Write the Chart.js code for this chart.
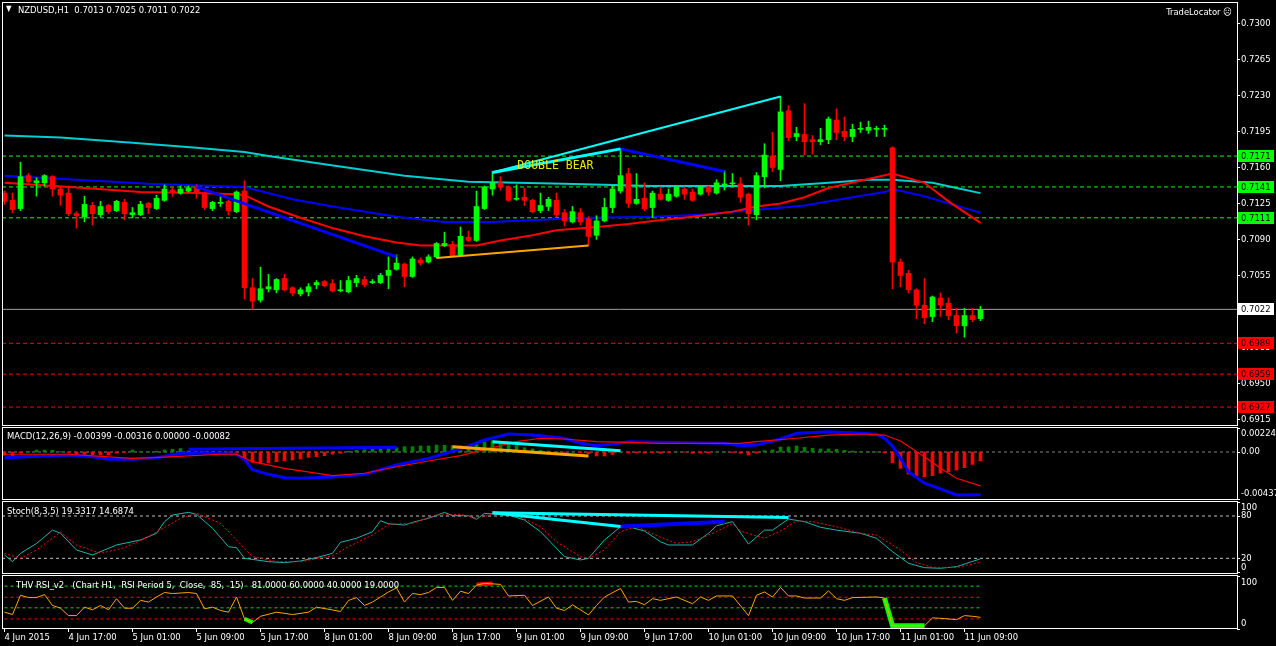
<!DOCTYPE html>
<html>
<head>
<meta charset="utf-8">
<title>NZDUSD,H1</title>
<script src="https://cdn.jsdelivr.net/npm/chart.js@4.4.1/dist/chart.umd.min.js"></script>
<style>
  html, body { margin: 0; padding: 0; background: #000; }
  body { width: 1276px; height: 646px; position: relative; overflow: hidden; color: #fff;
         font-family: "DejaVu Sans Condensed", "Liberation Sans Narrow", "Liberation Sans", sans-serif; font-size: 9.4px; }
  .pane { position: absolute; left: 0; width: 1276px; }
  .cap { position: absolute; white-space: pre; line-height: 12px; z-index: 2; }
</style>
</head>
<body>
<div class="pane" style="top:0;height:426px"><canvas id="mainChart"></canvas></div>
<div class="pane" style="top:426px;height:74px"><canvas id="macdChart"></canvas></div>
<div class="pane" style="top:500px;height:74px"><canvas id="stochChart"></canvas></div>
<div class="pane" style="top:574px;height:72px"><canvas id="rsiChart"></canvas></div>

<div class="cap" style="left:6px;top:3px;font-size:8px">▼</div>
<div class="cap" id="title" style="left:18px;top:4px"></div>
<div class="cap" style="right:44px;top:6px">TradeLocator ☹</div>
<div class="cap" style="left:7px;top:430px">MACD(12,26,9) -0.00399 -0.00316 0.00000 -0.00082</div>
<div class="cap" style="left:7px;top:505px">Stoch(8,3,5) 19.3317 14.6874</div>
<div class="cap" style="left:16px;top:579px">THV RSI_v2   (Chart H1,  RSI Period 5,  Close,  85,  15)   81.0000 60.0000 40.0000 19.0000</div>

<script>
// ---- data ----
const symbol = 'NZDUSD,H1';

// x axis: one label every 8 hourly bars
const tickBars = [0, 8, 16, 24, 32, 40, 48, 56, 64, 72, 80, 88, 96, 104, 112, 120];
const tickLabels = ['4 Jun 2015', '4 Jun 17:00', '5 Jun 01:00', '5 Jun 09:00', '5 Jun 17:00',
  '8 Jun 01:00', '8 Jun 09:00', '8 Jun 17:00', '9 Jun 01:00', '9 Jun 09:00', '9 Jun 17:00',
  '10 Jun 01:00', '10 Jun 09:00', '10 Jun 17:00', '11 Jun 01:00', '11 Jun 09:00'];

const priceTicks = [0.6915, 0.6950, 0.6985, 0.7020, 0.7055, 0.7090, 0.7125, 0.7160, 0.7195, 0.7230, 0.7265, 0.7300];

const opens = [
  0.7135,0.7128,0.7120,0.7152,0.7145,0.7145,0.7151,0.7139,0.7135,0.7115,
  0.7112,0.7123,0.7114,0.7123,0.7118,0.7126,0.7114,0.7114,0.7125,0.7120,
  0.7128,0.7138,0.7135,0.7137,0.7141,0.7135,0.7120,0.7125,0.7127,0.7117,
  0.7137,0.7043,0.7031,0.7042,0.7041,0.7052,0.7043,0.7037,0.7039,0.7046,
  0.7049,0.7047,0.7040,0.7039,0.7048,0.7051,0.7048,0.7048,0.7055,0.7061,
  0.7066,0.7054,0.7070,0.7068,0.7073,0.7084,0.7085,0.7075,0.7092,0.7089,
  0.7120,0.7139,0.7145,0.7141,0.7129,0.7131,0.7128,0.7118,0.7122,0.7128,
  0.7116,0.7107,0.7116,0.7110,0.7094,0.7108,0.7121,0.7137,0.7154,0.7125,
  0.7130,0.7121,0.7134,0.7128,0.7132,0.7139,0.7136,0.7134,0.7141,0.7135,
  0.7143,0.7144,0.7144,0.7134,0.7114,0.7151,0.7171,0.7158,0.7215,0.7190,
  0.7192,0.7187,0.7185,0.7187,0.7206,0.7195,0.7190,0.7197,0.7196,0.7197,
  0.7197,0.7179,0.7068,0.7057,0.7041,0.7026,0.7015,0.7033,0.7028,0.7016,
  0.7006,0.7016,0.7013];
const highs = [
  0.7137,0.7135,0.7165,0.7154,0.7150,0.7153,0.7152,0.7141,0.7142,0.7117,
  0.7132,0.7126,0.7127,0.7124,0.7128,0.7129,0.7121,0.7127,0.7126,0.7133,
  0.7143,0.7141,0.7142,0.7142,0.7143,0.7136,0.7127,0.7132,0.7128,0.7137,
  0.7147,0.7052,0.7063,0.7056,0.7052,0.7056,0.7044,0.7043,0.7047,0.7050,
  0.7050,0.7051,0.7050,0.7054,0.7055,0.7054,0.7051,0.7057,0.7073,0.7075,
  0.7067,0.7073,0.7072,0.7075,0.7087,0.7097,0.7088,0.7102,0.7098,0.7137,
  0.7142,0.7156,0.7151,0.7142,0.7143,0.7140,0.7129,0.7135,0.7131,0.7135,
  0.7119,0.7122,0.7120,0.7112,0.7113,0.7130,0.7142,0.7178,0.7159,0.7154,
  0.7145,0.7137,0.7141,0.7139,0.7142,0.7141,0.7139,0.7142,0.7142,0.7148,
  0.7157,0.7154,0.7150,0.7135,0.7155,0.7183,0.7194,0.7229,0.7220,0.7199,
  0.7222,0.7191,0.7198,0.7209,0.7217,0.7209,0.7202,0.7204,0.7205,0.7200,
  0.7201,0.7180,0.7071,0.7060,0.7042,0.7052,0.7035,0.7038,0.7033,0.7023,
  0.7023,0.7023,0.7025];
const lows = [
  0.7124,0.7116,0.7118,0.7145,0.7132,0.7142,0.7132,0.7123,0.7113,0.7101,
  0.7107,0.7104,0.7112,0.7115,0.7117,0.7109,0.7111,0.7113,0.7115,0.7119,
  0.7127,0.7132,0.7134,0.7136,0.7130,0.7119,0.7118,0.7122,0.7114,0.7116,
  0.7032,0.7022,0.7029,0.7039,0.7038,0.7040,0.7035,0.7035,0.7035,0.7042,
  0.7044,0.7039,0.7039,0.7038,0.7044,0.7044,0.7047,0.7047,0.7042,0.7060,
  0.7044,0.7053,0.7065,0.7067,0.7072,0.7083,0.7073,0.7074,0.7088,0.7088,
  0.7119,0.7133,0.7138,0.7127,0.7128,0.7123,0.7116,0.7116,0.7118,0.7112,
  0.7103,0.7106,0.7104,0.7084,0.7090,0.7107,0.7116,0.7135,0.7121,0.7124,
  0.7118,0.7111,0.7128,0.7127,0.7131,0.7129,0.7127,0.7133,0.7133,0.7134,
  0.7138,0.7141,0.7126,0.7104,0.7109,0.7140,0.7156,0.7147,0.7186,0.7186,
  0.7172,0.7173,0.7182,0.7183,0.7187,0.7186,0.7185,0.7194,0.7193,0.7190,
  0.7190,0.7042,0.7044,0.7038,0.7013,0.7008,0.7010,0.7015,0.7012,0.6999,
  0.6995,0.7010,0.7011];
const closes = [
  0.7127,0.7119,0.7151,0.7146,0.7147,0.7152,0.7139,0.7133,0.7115,0.7113,
  0.7124,0.7115,0.7122,0.7117,0.7127,0.7115,0.7116,0.7124,0.7121,0.7130,
  0.7139,0.7136,0.7139,0.7140,0.7135,0.7121,0.7126,0.7126,0.7118,0.7136,
  0.7043,0.7030,0.7042,0.7044,0.7051,0.7041,0.7038,0.7041,0.7044,0.7048,
  0.7045,0.7040,0.7041,0.7050,0.7052,0.7046,0.7049,0.7055,0.7060,0.7067,
  0.7054,0.7071,0.7067,0.7073,0.7086,0.7086,0.7074,0.7093,0.7089,0.7122,
  0.7141,0.7145,0.7141,0.7128,0.7130,0.7128,0.7117,0.7123,0.7129,0.7114,
  0.7108,0.7117,0.7107,0.7093,0.7108,0.7121,0.7139,0.7152,0.7125,0.7129,
  0.7120,0.7135,0.7129,0.7134,0.7141,0.7134,0.7128,0.7141,0.7136,0.7145,
  0.7144,0.7145,0.7131,0.7115,0.7152,0.7172,0.7160,0.7214,0.7189,0.7193,
  0.7185,0.7185,0.7187,0.7207,0.7194,0.7190,0.7197,0.7198,0.7199,0.7198,
  0.7198,0.7068,0.7055,0.7041,0.7026,0.7014,0.7034,0.7026,0.7016,0.7006,
  0.7016,0.7012,0.7022];

// moving averages, [bar, price]
const maSlow = [[0,0.7191],[7,0.7189],[16,0.7184],[24,0.7179],[30,0.7175],[33,0.7171],[40,0.7163],
  [50,0.7152],[58,0.7146],[70,0.7144],[81,0.7142],[87,0.7142],[97,0.7142],[103,0.7145],[108,0.7148],
  [111,0.7148],[116,0.7145],[119,0.7140],[122,0.7135]];
const maMid = [[0,0.7152],[18,0.7144],[30,0.7141],[36,0.7129],[41,0.7122],[49,0.7112],[55,0.7107],
  [61,0.7107],[67,0.7109],[73,0.7111],[81,0.7112],[87,0.7114],[91,0.7117],[96,0.7120],[100,0.7123],
  [106,0.7131],[110,0.7136],[111,0.7139],[115,0.7132],[118,0.7125],[122,0.7116]];
const maFast = [[0,0.7145],[10,0.7140],[17,0.7136],[24,0.7135],[29,0.7134],[30,0.7133],[33,0.7122],
  [37,0.7111],[41,0.7101],[45,0.7093],[49,0.7087],[52,0.7084],[59,0.7084],[62,0.7089],[66,0.7094],
  [69,0.7099],[74,0.7102],[78,0.7105],[81,0.7108],[86,0.7112],[91,0.7117],[94,0.7122],[97,0.7125],
  [100,0.7131],[103,0.7140],[107,0.7147],[111,0.7154],[115,0.7145],[118,0.7127],[122,0.7106]];

// drawn objects on the price pane
const priceBlueTrend = [[24,0.7141],[49,0.7073]];
const priceOrangeTrend = [[54,0.7072],[73,0.7084]];
const priceCyanUpper = [[61,0.7155],[97,0.7229]];
const priceCyanLower = [[61,0.7155],[77,0.7178]];
const priceBlueTop = [[77,0.7178],[90,0.7156]];
const patternText = 'DOUBLE BEAR';
const patternAt = [64.1, 0.7161];

const greenLevels = [0.7171, 0.7141, 0.7111];
const redLevels = [0.6989, 0.6959, 0.6927];

// MACD
const macdHist = [
  -0.00030,-0.00045,-0.00010,0.00004,0.00018,0.00018,0.00016,0.00003,-0.00005,-0.00025,
  -0.00025,-0.00025,-0.00028,-0.00025,-0.00010,-0.00003,0.00018,0.00005,0.00004,0.00008,
  0.00020,0.00026,0.00032,0.00010,0.00005,0.00002,0.00002,0.00001,-0.00002,-0.00004,
  -0.00059,-0.00096,-0.00112,-0.00100,-0.00090,-0.00081,-0.00074,-0.00065,-0.00050,-0.00043,
  -0.00034,-0.00020,-0.00012,0.00008,0.00016,0.00021,0.00028,0.00031,0.00034,0.00040,
  0.00050,0.00050,0.00056,0.00056,0.00065,0.00062,0.00059,0.00056,0.00062,0.00074,
  0.00096,0.00105,0.00090,0.00071,0.00059,0.00040,0.00028,0.00016,0.00009,0.00003,
  -0.00003,0.00001,-0.00005,-0.00015,-0.00037,-0.00037,-0.00022,0.00002,-0.00010,-0.00008,
  -0.00010,-0.00006,-0.00012,-0.00004,0.00001,-0.00002,-0.00012,-0.00010,-0.00008,0.00002,
  0.00003,-0.00004,-0.00012,-0.00028,-0.00010,0.00012,0.00020,0.00047,0.00047,0.00056,
  0.00043,0.00034,0.00028,0.00028,0.00025,0.00016,0.00009,0.00004,0.00003,0.00002,
  -0.00009,-0.00099,-0.00152,-0.00205,-0.00220,-0.00230,-0.00220,-0.00198,-0.00183,-0.00168,
  -0.00146,-0.00115,-0.00082];
const macdMain = [[0,-0.00053],[5,-0.00037],[8,-0.00028],[11,-0.00044],[13,-0.00068],[16,-0.00068],
  [19,-0.00053],[22,-0.00012],[25,-0.00012],[29,-0.00021],[30,-0.00070],[31,-0.00165],[33,-0.00208],
  [35,-0.00239],[37,-0.00245],[41,-0.00233],[45,-0.00208],[49,-0.00121],[53,-0.00059],[57,0.00028],
  [60,0.00112],[63,0.00168],[66,0.00158],[70,0.00128],[72,0.00081],[74,0.00059],[76,0.00072],
  [78,0.00096],[82,0.00090],[90,0.00081],[92,0.00059],[94,0.00065],[97,0.00121],[99,0.00174],
  [103,0.00189],[107,0.00174],[109,0.00165],[110,0.00128],[111,0.00056],[112,-0.00059],
  [113,-0.00183],[115,-0.00291],[117,-0.00344],[119,-0.00400],[122,-0.00399]];
const macdSignal = [[0,-0.00021],[8,-0.00021],[16,-0.00059],[20,-0.00047],[27,-0.00021],[29,-0.00021],
  [31,-0.00090],[35,-0.00152],[41,-0.00219],[45,-0.00198],[49,-0.00137],[53,-0.00084],[57,-0.00034],
  [59,0.00003],[64,0.00096],[67,0.00128],[70,0.00121],[74,0.00096],[78,0.00090],[82,0.00081],
  [92,0.00081],[94,0.00096],[99,0.00128],[103,0.00158],[107,0.00168],[110,0.00158],[112,0.00102],
  [115,-0.00044],[117,-0.00152],[119,-0.00245],[122,-0.00316]];
const macdBlueTrend = [[23,0.00025],[49,0.00044]];
const macdOrangeTrend = [[56,0.00049],[73,-0.00037]];
const macdCyanTrend = [[61,0.00096],[77,0.00012]];
const macdAxisValues = [0.00224, 0, -0.00437];
const macdAxisText = ['0.00224', '0.00', '-0.00437'];

// Stochastic
const stochMain = [[0,24.7],[1,15.2],[2,27],[4,41],[6,60],[7,55.5],[9,31.8],[11,24.7],[14,38.9],[17,46],
  [19,55.5],[20,72],[21,81.4],[23,85.2],[24,82.4],[26,62.6],[28,36.5],[29,35],[30,20],[33,15.2],
  [35,13.8],[37,16.2],[39,20.9],[41,27],[42,42.7],[44,48.4],[46,57.7],[47,73.3],[48,69],[50,67.2],
  [51,71],[53,76.7],[55,85.2],[56,80.4],[58,80.4],[59,75.3],[60,83.8],[63,81.4],[65,74.3],[67,57.7],
  [70,22.3],[72,17.6],[73,20],[75,46],[77,64.8],[78,64.8],[80,58.7],[82,43.5],[83,38.9],[86,38.9],
  [88,55.5],[89,66.2],[91,72],[93,40.3],[95,60],[96,60],[98,75.7],[100,72],[102,64],[104,60],
  [107,55.5],[109,48.4],[111,29.4],[113,12.9],[115,6.7],[117,5.8],[119,8.1],[122,19.3]];
const stochSignal = [[0,27],[2,20],[4,31.8],[7,57],[9,38.9],[12,27],[15,35],[18,50.6],[22,76.7],[24,83.8],
  [27,69.6],[29,46],[31,22.3],[34,15.2],[37,15.2],[41,23.5],[43,36.5],[46,53],[48,68.2],[51,69.6],
  [54,81.4],[57,82.4],[59,76.7],[61,82.4],[64,81.4],[67,64.8],[69,43.5],[72,22.3],[73,20],[75,31.8],
  [77,57.7],[79,64.8],[82,50],[84,41.3],[86,43.5],[89,57.7],[91,69.6],[92,58.7],[95,48.4],[97,58.7],
  [99,72.9],[101,72],[104,64.8],[107,55.5],[109,53],[112,31.8],[114,13.8],[116,7.2],[119,6.7],[122,14.7]];
const stochCyanUpper = [[61,84.7],[98,78]];
const stochCyanLower = [[61,84.7],[77,65]];
const stochBlueTrend = [[77,65],[90,72]];
const stochLevels = [80, 20];
const stochAxisValues = [100, 80, 20, 0];
const stochAxisText = ['100', '80', '20', '0'];

// RSI
const rsiLine = [[0,31.8],[1,27.3],[2,63.7],[3,59.3],[4,59.3],[5,65],[6,44.5],[7,39.3],[8,25.3],[9,25.3],
  [10,41.3],[11,36.3],[12,44.5],[13,36.3],[14,57.3],[15,39.3],[16,39.3],[17,54.1],[18,50.9],[19,60.5],
  [20,68.9],[21,67],[23,68.9],[24,67],[25,38.2],[26,41.3],[27,34.9],[28,31.8],[29,60.5],[30,19],
  [31,12.5],[32,24],[34,31.8],[36,27.3],[38,31.8],[39,41.3],[41,36],[42,33],[43,54],[44,59.3],
  [45,44.5],[46,50.9],[48,70],[49,77.7],[50,50.9],[51,67],[52,65],[53,68.9],[54,78.5],[55,78.5],
  [56,54.1],[57,71.4],[58,67],[59,82.9],[60,86.2],[62,84.3],[63,62.4],[65,63.7],[66,44.5],[68,60.5],
  [69,39.3],[70,34.9],[71,45.8],[73,26.6],[74,44.5],[75,60.5],[77,76.6],[78,50.9],[79,52.2],[80,45.8],
  [81,57.3],[82,54.1],[84,60.5],[86,47.7],[87,60.5],[88,54.1],[89,62.4],[91,62.4],[93,25.3],[94,63.7],
  [95,70],[96,60.5],[97,78.5],[98,62.4],[99,62.4],[100,58.5],[102,58.5],[103,72],[104,57.3],[105,54.1],
  [106,59.3],[109,60.5],[110,58.5],[111,6.1],[115,6.1],[116,21],[117,20.2],[119,17.7],[120,25.3],
  [121,24],[122,22]];
const rsiOverbought = [[59,84],[61,86]];
const rsiOversoldA = [[30,19],[31,12.5]];
const rsiOversoldB = [[110,58.5],[111,6.1],[115,6.1]];
const rsiGreenLevels = [81, 40];
const rsiRedLevels = [60, 19];
const rsiAxisValues = [100, 0];
const rsiAxisText = ['100', '0'];

// ---- chart setup ----
const FONT = '"DejaVu Sans Condensed", "Liberation Sans Narrow", "Liberation Sans", sans-serif';
const FONT_SIZE = 9.4;
Chart.defaults.font.family = FONT;
Chart.defaults.font.size = FONT_SIZE;
Chart.defaults.color = '#ffffff';
Chart.defaults.animation = false;
Chart.defaults.events = [];
Chart.defaults.plugins.legend.display = false;
Chart.defaults.plugins.tooltip.enabled = false;

const X_MIN = -0.3125;
const X_MAX = 154.0625;
const lastBar = closes.length - 1;

document.getElementById('title').textContent = symbol + '  ' +
  [opens[lastBar], highs[lastBar], lows[lastBar], closes[lastBar]].map(v => v.toFixed(4)).join(' ');

const pts = arr => arr.map(p => ({ x: p[0], y: p[1] }));
const line = (arr, color, width, extra) => Object.assign({
  type: 'line', data: pts(arr), borderColor: color, borderWidth: width,
  pointRadius: 0, fill: false, tension: 0
}, extra || {});
const hline = (v, color, dash, order) => line([[X_MIN, v], [X_MAX, v]], color, 1, { borderDash: dash, order: order });
const barLine = (v, color, dash, order) => line([[0, v], [lastBar, v]], color, 1, { borderDash: dash, order: order });

function xScale(show) {
  return {
    type: 'linear', min: X_MIN, max: X_MAX, offset: false, display: show,
    afterBuildTicks: s => { s.ticks = tickBars.map(v => ({ value: v })); },
    afterFit: s => {
      if (show) s.height = 17;
      s.paddingLeft = 0; s.paddingRight = 0;
    },
    ticks: { autoSkip: false, maxRotation: 0, minRotation: 0, align: 'start', padding: 0,
             color: '#ffffff', callback: (v, i) => tickLabels[i] },
    grid: { drawOnChartArea: false, drawTicks: true, tickLength: 3, color: '#ffffff' },
    border: { display: false }
  };
}
function yScale(min, max, extra) {
  return Object.assign({
    position: 'right', min: min, max: max, beginAtZero: false,
    afterFit: s => { s.width = 39; s.paddingTop = 0; s.paddingBottom = 0; },
    ticks: { display: false },
    grid: { display: false },
    border: { display: false }
  }, extra || {});
}

const paneFrame = {
  id: 'paneFrame',
  afterDraw(chart) {
    const { ctx, chartArea: a } = chart;
    ctx.save();
    ctx.strokeStyle = '#ffffff';
    ctx.lineWidth = 1;
    ctx.strokeRect(a.left + 0.5, a.top + 0.5, a.right - a.left, a.bottom - a.top - 1);
    ctx.restore();
  }
};

// indicator scale captions: first one hangs below its level, last one sits above it
function sideAxis(values, labels) {
  return {
    id: 'sideAxis',
    afterDraw(chart) {
      const s = chart.scales.y, ctx = chart.ctx, x = chart.chartArea.right;
      ctx.save();
      ctx.font = FONT_SIZE + 'px ' + FONT;
      ctx.fillStyle = '#ffffff';
      ctx.strokeStyle = '#ffffff';
      ctx.lineWidth = 1;
      ctx.textBaseline = 'middle';
      ctx.textAlign = 'left';
      values.forEach((v, i) => {
        const py = s.getPixelForValue(v);
        const shift = i === 0 ? 6 : (i === values.length - 1 ? -5 : 0);
        ctx.beginPath();
        ctx.moveTo(x, Math.round(py) + 0.5);
        ctx.lineTo(x + 3, Math.round(py) + 0.5);
        ctx.stroke();
        ctx.fillText(String(labels[i]), x + 4, py + shift);
      });
      ctx.restore();
    }
  };
}

const priceTags = {
  id: 'priceTags',
  afterDraw(chart) {
    const xs = chart.scales.x, ys = chart.scales.y, ctx = chart.ctx, x0 = chart.chartArea.right + 1;
    ctx.save();
    // pattern caption
    ctx.font = '11.5px "DejaVu Sans Mono", monospace';
    ctx.fillStyle = '#e8e800';
    ctx.textBaseline = 'middle';
    ctx.fillText(patternText, xs.getPixelForValue(patternAt[0]), ys.getPixelForValue(patternAt[1]));
    // level tags on the price axis
    ctx.font = FONT_SIZE + 'px ' + FONT;
    const tag = (v, fill) => {
      const py = Math.round(ys.getPixelForValue(v));
      ctx.fillStyle = fill;
      ctx.fillRect(x0, py - 6, 36, 12);
      ctx.fillStyle = '#000000';
      ctx.fillText(v.toFixed(4), x0 + 3, py + 0.5);
    };
    greenLevels.forEach(v => tag(v, '#00ff00'));
    redLevels.forEach(v => tag(v, '#ff0000'));
    tag(closes[lastBar], '#ffffff');
    ctx.restore();
  }
};

// ---- price pane ----
const candleColors = closes.map((c, i) => c >= opens[i] ? '#00ff00' : '#ff0000');
const bodies = opens.map((o, i) => ({ x: i, y: [o, closes[i]] }));
const wicks = lows.map((l, i) => ({ x: i, y: [l, highs[i]] }));

new Chart(document.getElementById('mainChart'), {
  type: 'bar',
  data: {
    datasets: [
      line(priceCyanUpper, '#00ffff', 2, { order: 0 }),
      line(priceCyanLower, '#00ffff', 3, { order: 0 }),
      line(priceBlueTop, '#0000ff', 3, { order: 0 }),
      line(priceBlueTrend, '#0000ff', 3, { order: 0 }),
      line(priceOrangeTrend, '#ffa500', 2, { order: 0 }),
      { type: 'bar', data: bodies, backgroundColor: candleColors, barThickness: 5, minBarLength: 1,
        grouped: false, borderWidth: 0, order: 1 },
      { type: 'bar', data: wicks, backgroundColor: candleColors, barThickness: 1,
        grouped: false, borderWidth: 0, order: 2 },
      line(maFast, '#ff0000', 2, { order: 3 }),
      line(maMid, '#0000ff', 2, { order: 3 }),
      line(maSlow, '#00ced1', 2, { order: 3 }),
      ...greenLevels.map(v => hline(v, '#00ff00', [4, 3], 4)),
      ...redLevels.map(v => hline(v, '#ff0000', [4, 3], 4)),
      hline(closes[lastBar], '#a0a0a0', [], 4)
    ]
  },
  options: {
    responsive: true, maintainAspectRatio: false,
    layout: { padding: { left: 2, top: 2, right: 0, bottom: 0 } },
    scales: {
      x: xScale(false),
      y: yScale(0.69086, 0.73208, {
        afterBuildTicks: s => { s.ticks = priceTicks.map(v => ({ value: v })); },
        ticks: { display: true, color: '#ffffff', padding: 1, callback: v => v.toFixed(4) },
        grid: { display: true, drawOnChartArea: false, drawTicks: true, tickLength: 3, color: '#ffffff' }
      })
    }
  },
  plugins: [paneFrame, priceTags]
});

// ---- MACD pane ----
new Chart(document.getElementById('macdChart'), {
  type: 'bar',
  data: {
    datasets: [
      line(macdBlueTrend, '#0000ff', 3, { order: 0 }),
      line(macdOrangeTrend, '#ffa500', 3, { order: 0 }),
      line(macdCyanTrend, '#00ffff', 3, { order: 0 }),
      line(macdSignal, '#ff0000', 1.2, { order: 1 }),
      line(macdMain, '#0000ff', 3, { order: 2 }),
      { type: 'bar', data: macdHist.map((v, i) => ({ x: i, y: v })),
        backgroundColor: macdHist.map(v => v >= 0 ? '#008000' : '#ff0000'),
        barThickness: 3, grouped: false, borderWidth: 0, order: 3 },
      hline(0, '#808080', [3, 3], 4)
    ]
  },
  options: {
    responsive: true, maintainAspectRatio: false,
    layout: { padding: { left: 2, top: 1, right: 0, bottom: 0 } },
    scales: { x: xScale(false), y: yScale(-0.00447, 0.00233) }
  },
  plugins: [paneFrame, sideAxis(macdAxisValues, macdAxisText)]
});

// ---- Stochastic pane ----
new Chart(document.getElementById('stochChart'), {
  type: 'line',
  data: {
    datasets: [
      line(stochCyanUpper, '#00ffff', 3, { order: 0 }),
      line(stochCyanLower, '#00ffff', 3, { order: 0 }),
      line(stochBlueTrend, '#0000ff', 4, { order: 0 }),
      line(stochSignal, '#ff0000', 1, { borderDash: [2, 2], order: 1 }),
      line(stochMain, '#20b2aa', 1, { order: 2 }),
      ...stochLevels.map(v => hline(v, '#c0c0c0', [3, 3], 3))
    ]
  },
  options: {
    responsive: true, maintainAspectRatio: false,
    layout: { padding: { left: 2, top: 1, right: 0, bottom: 0 } },
    scales: { x: xScale(false), y: yScale(-2.3, 101.3) }
  },
  plugins: [paneFrame, sideAxis(stochAxisValues, stochAxisText)]
});

// ---- RSI pane ----
new Chart(document.getElementById('rsiChart'), {
  type: 'line',
  data: {
    datasets: [
      line(rsiLine, '#ffa500', 1, { order: 1 }),
      line(rsiOverbought, '#ff0000', 4, { order: 2 }),
      line(rsiOversoldA, '#00ff00', 4, { order: 2 }),
      line(rsiOversoldB, '#00ff00', 5, { order: 2 }),
      ...rsiGreenLevels.map(v => barLine(v, '#00dd00', [3, 3], 3)),
      ...rsiRedLevels.map(v => barLine(v, '#ff0000', [3, 3], 3))
    ]
  },
  options: {
    responsive: true, maintainAspectRatio: false,
    layout: { padding: { left: 2, top: 1, right: 0, bottom: 0 } },
    scales: { x: xScale(true), y: yScale(0, 102) }
  },
  plugins: [paneFrame, sideAxis(rsiAxisValues, rsiAxisText)]
});
</script>
</body>
</html>
